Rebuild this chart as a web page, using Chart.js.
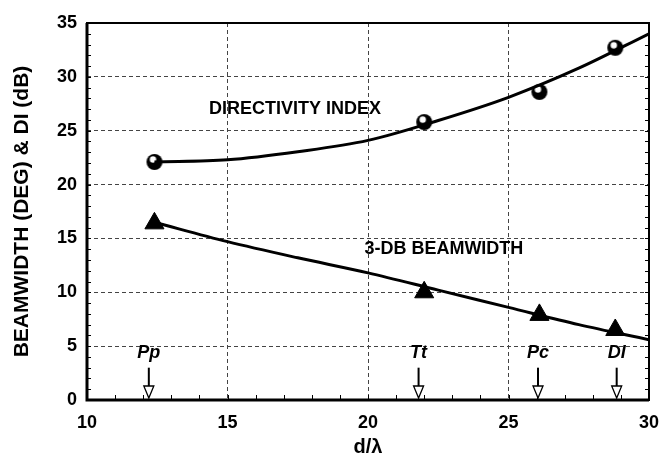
<!DOCTYPE html>
<html>
<head>
<meta charset="utf-8">
<script src="https://cdn.jsdelivr.net/npm/chart.js@4/dist/chart.umd.min.js"></script>
<style>
  html, body { margin: 0; padding: 0; background: #fff; }
  #wrap { width: 661px; height: 459px; }
</style>
</head>
<body>
<div id="wrap"><canvas id="beamChart" width="661" height="459"></canvas></div>
<script>
// measured points
const dRatio = [12.4, 22.0, 26.1, 28.8];
const diMeasured = [22.1, 25.8, 28.6, 32.7];
const bwMeasured = [16.4, 10.0, 7.9, 6.5];

// smooth curves through the data
const fitX = [12.4, 15, 17.5, 20, 22.5, 25, 27.5, 30];
const diFit = [22.1, 22.3, 23.05, 24.1, 25.95, 28.1, 30.8, 34.0];
const bwFit = [16.5, 14.7, 13.2, 11.8, 10.2, 8.6, 7.0, 5.6];

// design markers along the d/lambda axis
const designX = [12.2, 21.8, 26.05, 28.85];
const designNames = ['Pp', 'Tt', 'Pc', 'DI'];

const xTicks = [10, 15, 20, 25, 30];
const yTicks = [0, 5, 10, 15, 20, 25, 30, 35];

const FONT = '"Liberation Sans", Arial, sans-serif';

function pts(xs, ys) {
    return xs.map((x, i) => ({ x: x, y: ys[i] }));
}

// shaded ball marker for the directivity points
const ball = document.createElement('canvas');
ball.width = 18; ball.height = 18;
(function () {
    const c = ball.getContext('2d');
    c.fillStyle = '#000';
    c.beginPath(); c.arc(9, 9, 8, 0, Math.PI * 2); c.fill();
    c.fillStyle = '#fff';
    c.beginPath(); c.arc(7.5, 6.5, 3.2, 0, Math.PI * 2); c.fill();
})();

const decorations = {
    id: 'decorations',
    afterDraw(chart) {
        const ctx = chart.ctx;
        const xs = chart.scales.x, ys = chart.scales.y;
        const area = chart.chartArea;
        ctx.save();

        // minor ticks
        ctx.strokeStyle = '#000';
        ctx.lineWidth = 1;
        ctx.beginPath();
        for (let v = 11; v < 30; v++) {
            const px = Math.round(xs.getPixelForValue(v)) + 0.5;
            ctx.moveTo(px, area.bottom);
            ctx.lineTo(px, area.bottom - 5);
        }
        for (let v = 1; v < 35; v++) {
            const py = Math.round(ys.getPixelForValue(v)) + 0.5;
            ctx.moveTo(area.left, py);
            ctx.lineTo(area.left + 4, py);
            ctx.moveTo(area.right, py);
            ctx.lineTo(area.right - 4, py);
        }
        ctx.stroke();

        // plot frame, heavier on the two axes
        ctx.lineWidth = 2;
        ctx.strokeRect(area.left, area.top, area.right - area.left, area.bottom - area.top);
        ctx.lineWidth = 3;
        ctx.beginPath();
        ctx.moveTo(area.left, area.top);
        ctx.lineTo(area.left, area.bottom);
        ctx.lineTo(area.right, area.bottom);
        ctx.stroke();

        // arrows marking the designs
        designX.forEach((x, i) => {
            const px = xs.getPixelForValue(x);
            const top = ys.getPixelForValue(3.0);
            const base = ys.getPixelForValue(0) - 2;
            const head = 12;
            ctx.strokeStyle = '#000';
            ctx.lineWidth = 2;
            ctx.beginPath();
            ctx.moveTo(px, top);
            ctx.lineTo(px, base - head);
            ctx.stroke();
            ctx.lineWidth = 1.3;
            ctx.fillStyle = '#fff';
            ctx.beginPath();
            ctx.moveTo(px - 5, base - head);
            ctx.lineTo(px + 5, base - head);
            ctx.lineTo(px, base);
            ctx.closePath();
            ctx.fill();
            ctx.stroke();

            ctx.fillStyle = '#000';
            ctx.font = 'italic bold 18px ' + FONT;
            ctx.textAlign = 'center';
            ctx.textBaseline = 'middle';
            ctx.fillText(designNames[i], px, ys.getPixelForValue(4.4));
        });

        // curve labels
        ctx.font = 'bold 18px ' + FONT;
        ctx.textAlign = 'center';
        ctx.textBaseline = 'middle';
        ctx.fillText('DIRECTIVITY INDEX', xs.getPixelForValue(17.4), ys.getPixelForValue(27.0));
        ctx.fillText('3-DB BEAMWIDTH', xs.getPixelForValue(22.7), ys.getPixelForValue(14.0));
        ctx.restore();
    }
};

const ctx = document.getElementById('beamChart').getContext('2d');
new Chart(ctx, {
    type: 'scatter',
    data: {
        datasets: [{
            label: 'DI fit',
            data: pts(fitX, diFit),
            showLine: true,
            borderColor: '#000',
            borderWidth: 3,
            pointRadius: 0,
            cubicInterpolationMode: 'monotone'
        }, {
            label: 'Beamwidth fit',
            data: pts(fitX, bwFit),
            showLine: true,
            borderColor: '#000',
            borderWidth: 3,
            pointRadius: 0,
            cubicInterpolationMode: 'monotone'
        }, {
            label: 'Directivity index',
            data: pts(dRatio, diMeasured),
            pointStyle: ball,
            pointRadius: 8
        }, {
            label: '3-dB beamwidth',
            data: pts(dRatio, bwMeasured),
            pointStyle: 'triangle',
            pointRadius: 11,
            backgroundColor: '#000',
            borderColor: '#000',
            borderWidth: 1
        }]
    },
    options: {
        responsive: false,
        animation: false,
        layout: { padding: { left: 0, right: 10, top: 23, bottom: 0 } },
        plugins: { legend: { display: false }, tooltip: { enabled: false } },
        scales: {
            x: {
                type: 'linear',
                min: 10,
                max: 30,
                afterBuildTicks: s => { s.ticks = xTicks.map(v => ({ value: v })); },
                afterFit: s => { s.height = 59; s.paddingLeft = 0; s.paddingRight = 0; },
                grid: {
                    color: '#444',
                    lineWidth: 1,
                    drawTicks: false
                },
                // in v4 the border dash also styles the grid lines
                border: { display: false, dash: [4, 3] },
                ticks: {
                    color: '#000',
                    padding: 12,
                    font: { family: FONT, size: 18, weight: 'bold' }
                },
                title: {
                    display: true,
                    text: 'd/λ',
                    color: '#000',
                    padding: { top: 0, bottom: 0 },
                    font: { family: FONT, size: 20, weight: 'bold' }
                }
            },
            y: {
                type: 'linear',
                min: 0,
                max: 35,
                afterBuildTicks: s => { s.ticks = yTicks.map(v => ({ value: v })); },
                afterFit: s => { s.width = 87; s.paddingTop = 0; s.paddingBottom = 0; },
                grid: {
                    color: '#444',
                    lineWidth: 1,
                    drawTicks: false
                },
                border: { display: false, dash: [4, 3] },
                ticks: {
                    color: '#000',
                    padding: 10,
                    font: { family: FONT, size: 18, weight: 'bold' }
                },
                title: {
                    display: true,
                    text: 'BEAMWIDTH (DEG) & DI (dB)',
                    color: '#000',
                    padding: { top: 10, bottom: 0 },
                    font: { family: FONT, size: 21, weight: 'bold' }
                }
            }
        }
    },
    plugins: [decorations]
});
</script>
</body>
</html>
